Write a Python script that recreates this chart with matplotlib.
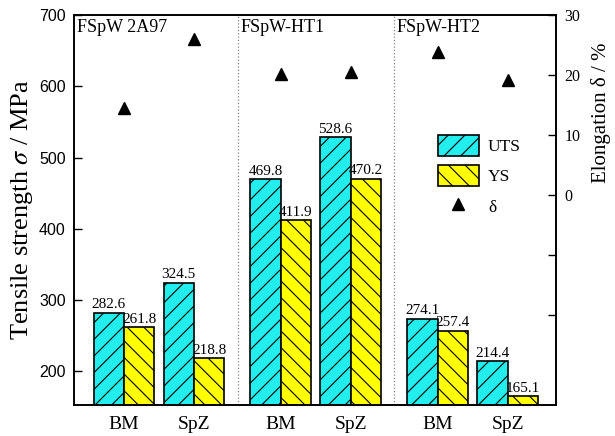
import numpy as np
import matplotlib.pyplot as plt

plt.rcParams['font.family'] = ['Liberation Serif', 'DejaVu Serif']
plt.rcParams['mathtext.fontset'] = 'stix'
plt.rcParams['hatch.linewidth'] = 0.8

# data
groups = ['FSpW 2A97', 'FSpW-HT1', 'FSpW-HT2']
zones = ['BM', 'SpZ', 'BM', 'SpZ', 'BM', 'SpZ']
uts = [282.6, 324.5, 469.8, 528.6, 274.1, 214.4]
ys = [261.8, 218.8, 411.9, 470.2, 257.4, 165.1]
elong = [14.5, 26.0, 20.2, 20.5, 23.8, 19.2]

pos = np.array([0, 1, 2.24, 3.24, 4.48, 5.48])
seps = [1.63, 3.86]
w = 0.435

fig = plt.figure(figsize=(6.15, 4.36), dpi=100)
ax = fig.add_axes([0.1203, 0.0711, 0.7837, 0.8945])

b1 = ax.bar(pos - w / 2, uts, w, color='#22EEEE', edgecolor='black', hatch='//', linewidth=1.2, label='UTS')
b2 = ax.bar(pos + w / 2, ys, w, color='#FFFF00', edgecolor='black', hatch='\\\\', linewidth=1.2, label='YS')

for x, v in zip(pos - w / 2, uts):
    ax.annotate('%.1f' % v, (x, v), xytext=(0, 1), textcoords='offset points',
                ha='center', va='bottom', fontsize=11)
for x, v in zip(pos + w / 2, ys):
    ax.annotate('%.1f' % v, (x, v), xytext=(0, 1), textcoords='offset points',
                ha='center', va='bottom', fontsize=11)

for s in seps:
    ax.axvline(s, color='gray', linestyle=':', linewidth=0.9)

ax.set_xlim(-0.714, 6.17)
ax.set_ylim(153, 700)
ax.set_xticks(pos)
ax.set_xticklabels(zones, fontsize=14)
ax.tick_params(axis='x', length=0, pad=8)
ax.set_yticks([200, 300, 400, 500, 600, 700])
ax.tick_params(axis='y', direction='in', length=6, width=1, pad=6)
for lab in ax.get_yticklabels():
    lab.set_fontfamily('Liberation Sans')
    lab.set_fontsize(11.5)
ax.set_ylabel(r'Tensile strength $\sigma$ / MPa', fontsize=19, labelpad=3)

# group titles in the top left of each panel
for x, g in zip([-0.714] + seps, groups):
    ax.annotate(g, (x, 1), xycoords=('data', 'axes fraction'), xytext=(2, -3),
                textcoords='offset points', ha='left', va='top', fontsize=13)

ax2 = ax.twinx()
tri, = ax2.plot(pos, elong, linestyle='none', marker='^', color='black', markersize=9, label='δ')
ax2.set_ylim(-35, 30)
ax2.set_yticks([-20, -10, 0, 10, 20, 30])
ax2.set_yticklabels(['', '', '0', '10', '20', '30'], fontsize=11.5)
ax2.tick_params(axis='y', direction='in', length=6, width=1, pad=6)
ax2.set_ylabel('Elongation δ / %', fontsize=15)
ax2.yaxis.set_label_coords(1.072, 0.75)

for a in (ax, ax2):
    for sp in a.spines.values():
        sp.set_linewidth(1.2)

ax.legend([b1, b2, tri], ['UTS', 'YS', 'δ'], loc='upper left', bbox_to_anchor=(0.722, 0.732),
          frameon=False, fontsize=12.5, handlelength=2.4, handleheight=1.45, handletextpad=0.5,
          labelspacing=0.55)

fig.savefig('out.png')
